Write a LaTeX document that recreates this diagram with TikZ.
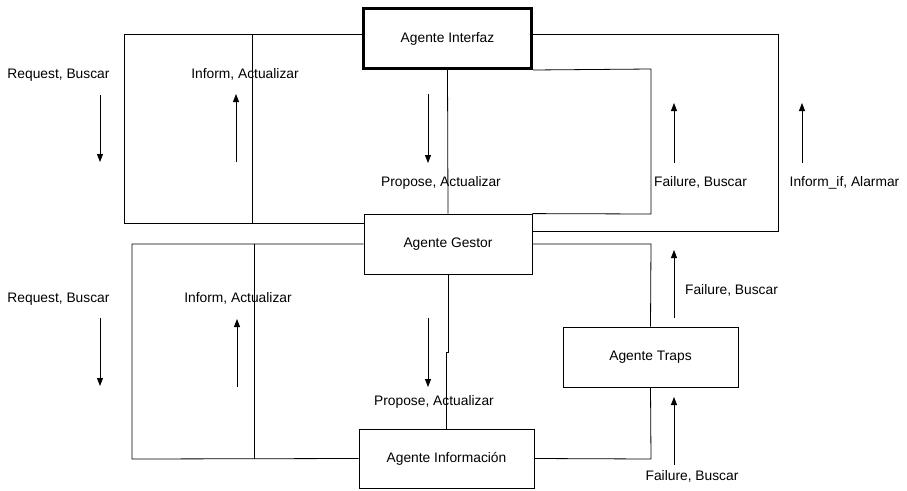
\documentclass[tikz,border=0pt]{standalone}
\usepackage{fontspec}
\setmainfont{Liberation Sans}
\usetikzlibrary{arrows.meta}
\begin{document}
\begin{tikzpicture}[x=1pt,y=-1pt,
  line width=0.8pt, line join=miter,
  agent/.style={draw, rectangle, minimum width=#1, font=\fontsize{13.8}{16}\selectfont, inner sep=0pt},
  agent/.default=170pt,
  lbl/.style={font=\fontsize{13.8}{16}\selectfont, inner sep=0pt, text height=9.9pt, text depth=2.9pt},
  msg/.style={-{Triangle[length=8pt,width=6pt]}, line width=0.8pt}]
\useasboundingbox (0,0) rectangle (907,490);

% agents
\node[agent=168pt, minimum height=60pt, line width=3pt] (interfaz) at (447.5,38.5) {Agente Interfaz};
\node[agent=168pt, minimum height=60pt] (gestor) at (448,244) {Agente Gestor};
\node[agent=175pt, minimum height=59pt] (informacion) at (446.5,458.5) {Agente Información};
\node[agent=175pt, minimum height=60pt] (traps) at (650.5,357) {Agente Traps};

% links between Interfaz and Gestor
\draw ([yshift=4.5pt]interfaz.west) -- (124,34) -- (124,223) -- ([yshift=21pt]gestor.west);
\draw (252,34) -- (252,223);
\draw (interfaz.south) -- (gestor.north);
\draw (interfaz.south east) -- (651,69) -- (651,214) -- (gestor.north east);
\draw ([yshift=4.5pt]interfaz.east) -- (778,34) -- (778,231) -- ([yshift=13pt]gestor.east);

% links between Gestor, Información and Traps
\draw (gestor.west) -- (132,244) -- (132,459) -- (informacion.west);
\draw (254,244) -- (254,459);
\draw (gestor.south) -- (448,352) -| (informacion.north);
\draw (gestor.east) -- (651,244) -- (traps.north);
\draw (traps.south) -- (651,459) -- (informacion.east);

% messages, upper level
\node[lbl] (l1) at (58.5,75) {Request, Buscar};
\draw[msg] (100,95) -- (100,162);
\node[lbl] (l2) at (245,75) {Inform, Actualizar};
\draw[msg] (236,162) -- (236,94);
\node[lbl] (l3) at (441,183) {Propose, Actualizar};
\draw[msg] (428,94) -- (428,163);
\node[lbl] (l4) at (700.5,183) {Failure, Buscar};
\draw[msg] (674,163) -- (674,103);
\node[lbl] (l5) at (844.5,183) {Inform\_if, Alarmar};
\draw[msg] (802,163) -- (802,103);

% messages, lower level
\node[lbl] (l6) at (58.5,299) {Request, Buscar};
\draw[msg] (100,318) -- (100,386);
\node[lbl] (l7) at (238,299) {Inform, Actualizar};
\draw[msg] (237,387) -- (237,319);
\node[lbl] (l8) at (434,402) {Propose, Actualizar};
\draw[msg] (428,318) -- (428,387);
\node[lbl] (l9) at (731.5,291) {Failure, Buscar};
\draw[msg] (674,318) -- (674,250);
\node[lbl] (l10) at (692,477) {Failure, Buscar};
\draw[msg] (674,465) -- (674,397);
\end{tikzpicture}
\end{document}
